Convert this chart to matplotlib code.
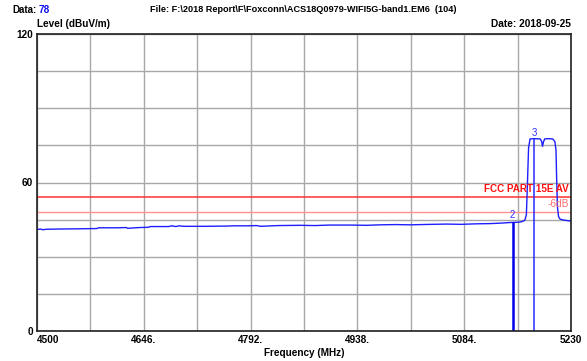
import numpy as np
import matplotlib
matplotlib.use("Agg")
import matplotlib.pyplot as plt

plt.rcParams['font.family'] = ['Liberation Sans', 'DejaVu Sans']

# trace (MHz, dBuV/m)
freq = [4500, 4505, 4508, 4512, 4530, 4560, 4582, 4584, 4610, 4622, 4624, 4640,
        4652, 4655, 4680, 4684, 4690, 4694, 4700, 4730, 4760, 4768, 4790, 4800,
        4806, 4830, 4860, 4880, 4900, 4930, 4950, 4970, 4990, 5010, 5040, 5060,
        5080, 5100, 5120, 5135, 5145, 5160, 5164, 5167, 5169, 5170.5, 5172, 5174,
        5180, 5188, 5190, 5191, 5192.5, 5194, 5200, 5205, 5208, 5209.5, 5210.5,
        5211.5, 5213, 5215, 5220, 5230]
level = [41.0, 41.2, 40.9, 41.1, 41.2, 41.3, 41.4, 41.7, 41.7, 41.8, 41.5, 41.8,
         41.9, 42.2, 42.2, 42.5, 42.2, 42.5, 42.3, 42.3, 42.4, 42.5, 42.5, 42.6,
         42.3, 42.6, 42.7, 42.6, 42.8, 42.8, 42.7, 42.9, 43.0, 42.9, 43.1, 43.2,
         43.1, 43.3, 43.4, 43.6, 43.8, 44.0, 44.3, 44.8, 47.0, 60.0, 74.0, 77.6,
         77.7, 77.6, 76.5, 74.6, 76.5, 77.6, 77.7, 77.6, 76.5, 73.0, 60.0,
         50.0, 46.2, 45.2, 44.8, 44.4]

limit_av = 54
limit_6db = 48
markers = {'2': (5150.3, 44.2), '3': (5179.8, 77.6)}

xticks = np.linspace(4500, 5230, 11)
xlabels = ['4500', '', '4646.', '', '4792.', '', '4938.', '', '5084.', '', '5230']
yticks = np.arange(0, 121, 15)
ylabels = ['0', '', '', '', '60', '', '', '', '120']

fig = plt.figure(figsize=(5.87, 3.61), dpi=100)
ax = fig.add_axes([37/587, 30/361, 534/587, 297/361])

ax.set_xlim(4500, 5230)
ax.set_ylim(0, 120)
ax.set_xticks(xticks)
ax.set_xticklabels(xlabels, fontsize=7.2, fontweight='bold')
ax.set_yticks(yticks)
ax.set_yticklabels(ylabels, fontsize=7.2, fontweight='bold')
ax.tick_params(length=0, pad=3)
ax.get_xticklabels()[0].set_horizontalalignment('left')
ax.grid(True, color='#a8a8a8', lw=1)
ax.set_axisbelow(True)
for s in ax.spines.values():
    s.set_color('#202020')
    s.set_linewidth(1.2)

ax.axhline(limit_av, color='#ff3030', lw=1.1)
ax.axhline(limit_6db, color='#ff9090', lw=1.0)
ax.text(5227, limit_av + 1.3, 'FCC PART 15E AV', color='#ff1010', fontsize=7.1,
        fontweight='bold', ha='right', va='bottom')
ax.text(5227, limit_6db + 1.3, '-6dB', color='#ff7070', fontsize=7.3,
        ha='right', va='bottom')

ax.plot(freq, level, color='#1e1eff', lw=1)

# marker lines
ax.vlines(markers['2'][0], 0, markers['2'][1], color='#0000ee', lw=1.8)
ax.vlines(markers['3'][0], 0, markers['3'][1], color='#2a2aff', lw=1.1)
for name, (f, l) in markers.items():
    ax.text(f, l + 0.5, name, color='#3030ff', fontsize=7, ha='center', va='bottom')

ax.set_xlabel('Frequency (MHz)', fontsize=7.2, fontweight='bold', labelpad=2)

fig.text(12/587, 1 - 10/361, 'Data:', fontsize=7.0, fontweight='bold', va='center')
fig.text(39/587, 1 - 10/361, '78', fontsize=7.2, fontweight='bold', color='#1010ee', va='center')
fig.text(303/587, 1 - 10/361, r'File: F:\2018 Report\F\Foxconn\ACS18Q0979-WIFI5G-band1.EM6  (104)',
         fontsize=6.6, fontweight='bold', ha='center', va='center')
fig.text(571/587, 1 - 24/361, 'Date: 2018-09-25', fontsize=7.3, fontweight='bold',
         ha='right', va='center')
fig.text(37/587, 1 - 24/361, 'Level (dBuV/m)', fontsize=7.2, fontweight='bold', va='center')

fig.savefig('out.png', dpi=100)
